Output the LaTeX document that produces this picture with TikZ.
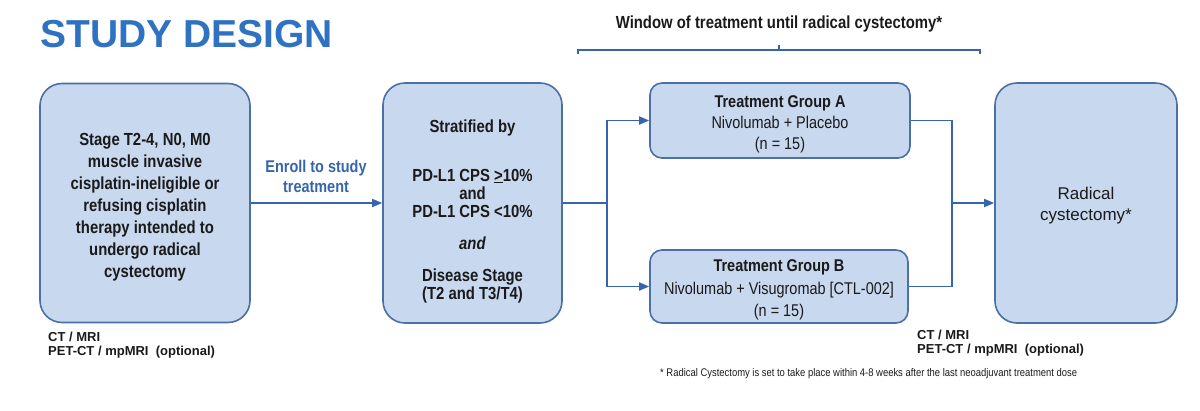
\documentclass[tikz,border=0pt]{standalone}
\usepackage{fontspec}
\setmainfont{Liberation Sans}
\newfontfamily\narrowfont[FakeStretch=0.85]{Liberation Sans}
\usetikzlibrary{arrows.meta,positioning,calc}
\definecolor{boxfill}{HTML}{C8D8EE}
\definecolor{boxedge}{HTML}{4A70A5}
\definecolor{flowblue}{HTML}{3565AC}
\definecolor{titleblue}{HTML}{2F72C2}
\definecolor{inkgray}{HTML}{1A1A1A}

\begin{document}
\begin{tikzpicture}[x=1pt,y=-1pt,
    bigbox/.style={draw=boxedge,fill=boxfill,line width=1.6pt,rounded corners=22pt,inner sep=0pt},
    grpbox/.style={draw=boxedge,fill=boxfill,line width=1.6pt,rounded corners=12pt,inner sep=0pt},
    boxtext/.style={align=center,inner sep=0pt,text=inkgray},
    flow/.style={draw=flowblue,line width=1.7pt},
    flowarr/.style={flow,-{Triangle[length=10pt,width=8pt]}},
    scannote/.style={anchor=north west,inner sep=0pt,align=left,text=inkgray,font=\bfseries\fontsize{13}{14.3}\selectfont}]
  \useasboundingbox (0,0) rectangle (1200,410);

  \node[anchor=base west,inner sep=0pt,text=titleblue,font=\bfseries\fontsize{39}{40}\selectfont] (title) at (40,47) {STUDY DESIGN};

  % boxes
  \node[bigbox,minimum width=210pt,minimum height=239pt] (elig) at (145,203) {};
  \node[bigbox,minimum width=179pt,minimum height=240pt] (strat) at (472.5,203) {};
  \node[grpbox,minimum width=260pt,minimum height=75pt] (grpA) at (780,120.5) {};
  \node[grpbox,minimum width=258pt,minimum height=73pt] (grpB) at (779,286.5) {};
  \node[bigbox,minimum width=182pt,minimum height=240pt] (cyst) at (1086,203) {};

  % box texts
  \node[boxtext,font=\narrowfont\bfseries\fontsize{17.5}{22}\selectfont] (eligtext) at ($(elig.center)+(0,4)$)
    {Stage T2-4, N0, M0\\muscle invasive\\cisplatin-ineligible or\\refusing cisplatin\\therapy intended to\\undergo radical\\cystectomy};
  \node[boxtext,font=\narrowfont\bfseries\fontsize{17.5}{18}\selectfont] (strattext) at ($(strat.center)+(0,8)$)
    {Stratified by\\[31pt]PD-L1 CPS \underline{>}10\%\\[0pt]and\\[0pt]PD-L1 CPS <10\%\\[14pt]\textit{and}\\[14pt]Disease Stage\\(T2 and T3/T4)};
  \node[boxtext,font=\narrowfont\fontsize{17}{21}\selectfont] (grpAtext) at ($(grpA.center)+(0,4)$)
    {\textbf{Treatment Group A}\\Nivolumab + Placebo\\(n = 15)};
  \node[boxtext,font=\narrowfont\fontsize{17}{22.5}\selectfont] (grpBtext) at ($(grpB.center)+(0,3.5)$)
    {\textbf{Treatment Group B}\\Nivolumab + Visugromab [CTL-002]\\(n = 15)};
  \node[boxtext,font=\fontsize{17}{21}\selectfont] (cysttext) at ($(cyst.center)+(0,2.5)$)
    {Radical\\cystectomy*};

  % connectors
  \coordinate (split) at (607,203);
  \coordinate (merge) at (952,203);
  \draw[flowarr] (elig.east) -- (strat.west);
  \node[align=center,inner sep=0pt,text=flowblue,font=\narrowfont\bfseries\fontsize{17}{20}\selectfont] (enroll) at (316,176) {Enroll to study\\treatment};
  \draw[flow] (strat.east) -- (split);
  \draw[flowarr] (split) |- (grpA.west);
  \draw[flowarr] (split) |- (grpB.west);
  \draw[flow] (grpA.east) -| (merge);
  \draw[flow] (grpB.east) -| (merge);
  \draw[flowarr] (merge) -- (cyst.west);

  % treatment window
  \coordinate (wleft) at (578,50);
  \coordinate (wright) at (980,50);
  \draw[flow,line width=1.3pt] ($(wleft)+(0,4)$) -- (wleft) -- (wright) -- ++(0,4);
  \draw[flow,line width=1.3pt] ($(wleft)!0.5!(wright)$) -- ++(0,-5);
  \node[anchor=base,inner sep=0pt,text=inkgray,font=\narrowfont\bfseries\fontsize{17.5}{20}\selectfont] (window) at (779,28) {Window of treatment until radical cystectomy*};

  % imaging notes
  \node[scannote] (scanpre) at (48,332) {CT / MRI\\PET-CT / mpMRI\ \ (optional)};
  \node[scannote] (scanpost) at (917,330) {CT / MRI\\PET-CT / mpMRI\ \ (optional)};
  \node[anchor=base west,inner sep=0pt,text=inkgray,font=\narrowfont\fontsize{11.1}{13}\selectfont] (fnote) at (660,376)
    {* Radical Cystectomy is set to take place within 4-8 weeks after the last neoadjuvant treatment dose};
\end{tikzpicture}
\end{document}
